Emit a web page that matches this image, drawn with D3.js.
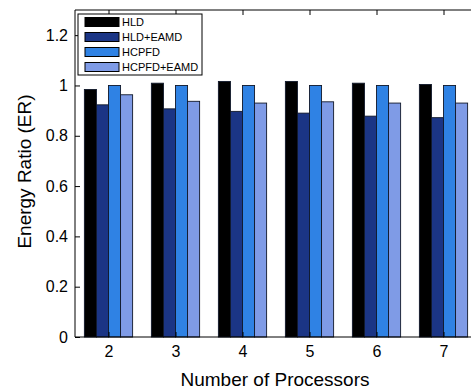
<!DOCTYPE html>
<html>
<head>
<meta charset="utf-8">
<script src="https://cdn.jsdelivr.net/npm/d3@7"></script>
<style>
  body { margin: 0; background: #fff; }
  text { font-family: "Liberation Sans", Arial, sans-serif; fill: #000; }
</style>
</head>
<body>
<div id="chart"></div>
<script>
// data
const processors = [2, 3, 4, 5, 6, 7];
const seriesNames = ["HLD", "HLD+EAMD", "HCPFD", "HCPFD+EAMD"];
const hld      = [0.984, 1.009, 1.016, 1.016, 1.009, 1.004];
const hldEamd  = [0.923, 0.907, 0.897, 0.890, 0.878, 0.872];
const hcpfd    = [1.000, 1.000, 1.000, 1.000, 1.000, 1.000];
const hcpfdEamd = [0.963, 0.937, 0.930, 0.935, 0.930, 0.930];
const yTicks = [0, 0.2, 0.4, 0.6, 0.8, 1, 1.2];

const seriesValues = [hld, hldEamd, hcpfd, hcpfdEamd];
const colors = ["#000000", "#1b3585", "#2f82e4", "#7f9be6"];

const width = 471, height = 392;
const margin = {left: 75, top: 10, bottom: 55};

const svg = d3.select("#chart")
    .append("svg")
    .attr("width", width)
    .attr("height", height);

// x goes a bit past the right edge of the picture, like the reference
const xScale = d3.scaleLinear()
    .domain([1.5, 7.5])
    .range([margin.left, margin.left + 6 * 67]);

const yScale = d3.scaleLinear()
    .domain([0, 1.3])
    .range([height - margin.bottom, margin.top]);

const barW = xScale(1.18) - xScale(1);

// bars
seriesValues.forEach((vals, s) => {
    svg.append("g")
        .selectAll("rect")
        .data(vals)
        .join("rect")
        .attr("x", (d, i) => xScale(processors[i]) + (s - 2) * barW)
        .attr("y", d => yScale(d))
        .attr("width", barW)
        .attr("height", d => yScale(0) - yScale(d))
        .attr("fill", colors[s])
        .attr("stroke", "#10182a")
        .attr("stroke-width", 0.9);
});

// axes (matlab style, ticks inside)
const x0 = xScale.range()[0], x1 = xScale.range()[1];
const y0 = yScale(0), y1 = yScale(1.3);

svg.append("g")
    .attr("transform", `translate(${x0},0)`)
    .call(d3.axisLeft(yScale).tickValues(yTicks).tickSize(-5).tickPadding(7)
        .tickFormat(d => d === 0 ? "0" : d === 1 ? "1" : d3.format(".1f")(d)))
    .call(g => g.selectAll("text").style("font-size", "16px").attr("font-family", null))
    .call(g => g.select(".domain").attr("d", `M0,${y1}V${y0}`));

svg.append("g")
    .attr("transform", `translate(0,${y0})`)
    .call(d3.axisBottom(xScale).tickValues(processors).tickSize(-5).tickPadding(9)
        .tickFormat(d3.format("d")))
    .call(g => g.selectAll("text").style("font-size", "16px").attr("font-family", null))
    .call(g => g.select(".domain").attr("d", `M${x0},0H${x1}`));

svg.append("g")
    .attr("transform", `translate(0,${y1})`)
    .call(d3.axisTop(xScale).tickValues(processors).tickSize(-5).tickFormat(""))
    .call(g => g.select(".domain").attr("d", `M${x0},0H${x1}`));

svg.selectAll(".domain, .tick line").attr("stroke", "#000").attr("stroke-width", 1);

// axis labels
svg.append("text")
    .attr("x", 275)
    .attr("y", 386)
    .style("text-anchor", "middle")
    .style("font-size", "19px")
    .text("Number of Processors");

svg.append("text")
    .attr("transform", `translate(31,${(88 + 255) / 2}) rotate(-90)`)
    .style("text-anchor", "middle")
    .style("font-size", "19px")
    .text("Energy Ratio (ER)");

// legend
const legend = svg.append("g").attr("transform", "translate(78,14)");
legend.append("rect")
    .attr("width", 124)
    .attr("height", 61)
    .attr("fill", "#fff")
    .attr("stroke", "#000")
    .attr("stroke-width", 1);

seriesNames.forEach((name, s) => {
    const cy = 8 + s * 15;
    legend.append("rect")
        .attr("x", 7)
        .attr("y", cy - 4.5)
        .attr("width", 34)
        .attr("height", 9)
        .attr("fill", colors[s])
        .attr("stroke", "#000")
        .attr("stroke-width", 1);
    legend.append("text")
        .attr("x", 44)
        .attr("y", cy + 4)
        .style("font-size", "11px")
        .text(name);
});
</script>
</body>
</html>
